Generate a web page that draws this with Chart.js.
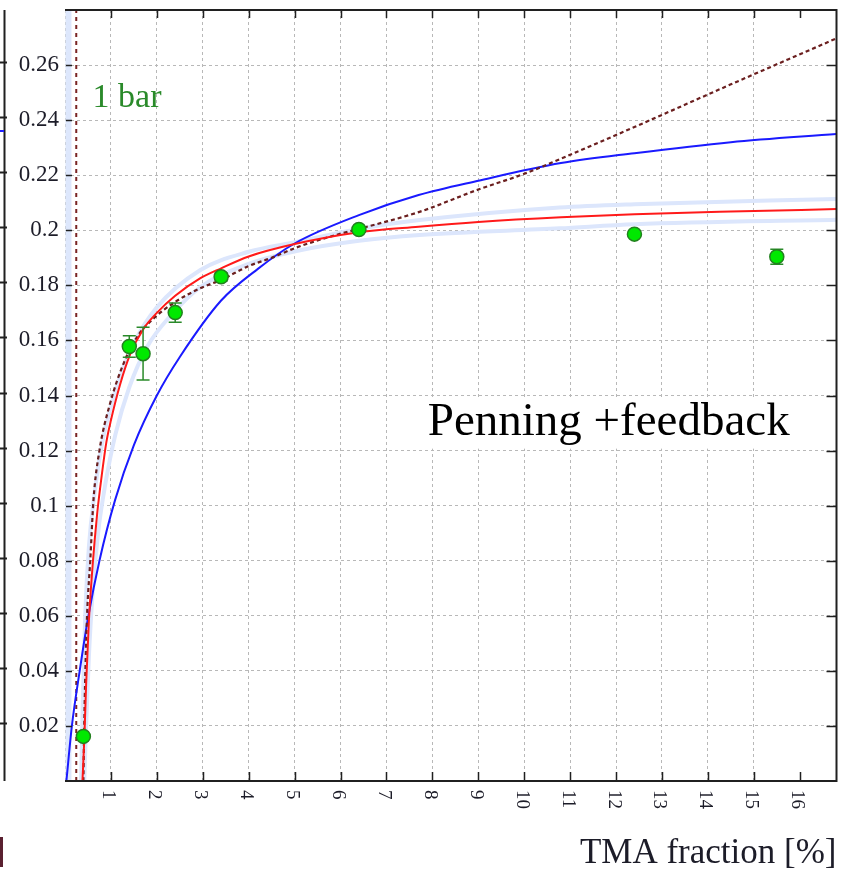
<!DOCTYPE html>
<html>
<head>
<meta charset="utf-8">
<title>TMA fraction</title>
<script src="https://cdn.jsdelivr.net/npm/chart.js@4.4.0/dist/chart.umd.min.js"></script>
<style>
  html, body { margin: 0; padding: 0; background: #fff; }
</style>
</head>
<body>
<canvas id="tma-chart" width="845" height="869"></canvas>
<script>
// --- data ---

// axis ticks
const xTicks = [1, 2, 3, 4, 5, 6, 7, 8, 9, 10, 11, 12, 13, 14, 15, 16];
const yTicks = [0.02, 0.04, 0.06, 0.08, 0.1, 0.12, 0.14, 0.16, 0.18, 0.2, 0.22, 0.24, 0.26];

// measured points, 1 bar (TMA %, value, error)
const measX = [0.4, 1.4, 1.7, 2.4, 3.4, 6.4, 12.4, 15.5];
const measY = [0.0162, 0.1578, 0.1552, 0.1701, 0.1831, 0.2003, 0.1986, 0.1904];
const measErr = [0, 0.0039, 0.0096, 0.0035, 0.0015, 0.001, 0.001, 0.0027];

// Penning fit (red)
const penningX = [0.38, 0.42, 0.46, 0.52, 0.6, 0.7, 0.8, 0.9, 1.0, 1.2, 1.42, 1.7, 2.0, 2.4, 2.94, 3.4, 4.0, 5.0, 6.4, 7.7, 9.0, 10.8, 12.4, 14.5, 16.8];
const penningY = [0, 0.015, 0.035, 0.058, 0.078, 0.097, 0.111, 0.123, 0.131, 0.144, 0.155, 0.164, 0.170, 0.1762, 0.1825, 0.1862, 0.1905, 0.1950, 0.1993, 0.2013, 0.203, 0.2047, 0.2058, 0.2068, 0.2077];

// band around the Penning fit (pale blue)
const bandHiX = [0.35, 0.39, 0.44, 0.52, 0.64, 0.8, 1.0, 1.2, 1.5, 2.0, 2.94, 4.0, 5.04, 6.4, 7.72, 10.77, 12.4, 16.8];
const bandHiY = [0, 0.03, 0.06, 0.085, 0.104, 0.122, 0.136, 0.147, 0.159, 0.172, 0.1855, 0.1922, 0.1958, 0.2005, 0.2037, 0.2083, 0.2095, 0.2114];
const bandLoX = [0.42, 0.46, 0.52, 0.6, 0.72, 0.88, 1.1, 1.4, 1.8, 2.3, 2.94, 4.0, 5.04, 6.4, 7.72, 10.77, 12.4, 16.8];
const bandLoY = [0, 0.02, 0.045, 0.068, 0.09, 0.108, 0.126, 0.143, 0.158, 0.169, 0.1793, 0.1878, 0.1925, 0.1962, 0.1983, 0.2007, 0.2022, 0.2038];

// second fit (blue)
const blueX = [0.03, 0.15, 0.32, 0.51, 0.75, 1.09, 1.5, 2.0, 2.5, 3.4, 4.2, 5.0, 6.4, 7.7, 9.0, 10.8, 12.4, 14.5, 16.8];
const blueY = [0, 0.02, 0.04, 0.06, 0.08, 0.102, 0.122, 0.140, 0.154, 0.1745, 0.186, 0.1952, 0.2055, 0.2128, 0.218, 0.2244, 0.228, 0.232, 0.235];

// Penning + feedback (dashed)
const feedbackX = [0.40, 0.43, 0.48, 0.55, 0.62, 0.75, 0.98, 1.31, 1.6, 1.93, 2.4, 2.94, 3.4, 4.0, 4.5, 5.0, 5.84, 6.4, 7.72, 9.0, 10.0, 10.77, 12.4, 14.5, 16.8];
const feedbackY = [0, 0.03, 0.06, 0.08, 0.102, 0.12, 0.137, 0.153, 0.162, 0.168, 0.174, 0.1789, 0.182, 0.187, 0.190, 0.1935, 0.198, 0.2005, 0.2067, 0.2148, 0.2205, 0.2258, 0.2375, 0.2530, 0.2697];

// vertical lines near the origin
const poleX = [0.245, 0.245];
const poleY = [0, 0.28];
const edgeBandX = [0.075, 0.075];
const edgeBandY = [0, 0.28];

const SERIF = "'Liberation Serif', 'DejaVu Serif', serif";
const TEXT = "#1c1c28";

function toPoints(xs, ys) {
    return xs.map((x, i) => ({ x: x, y: ys[i] }));
}

// --- plugins ---

// error bars under the measured points
const errorBars = {
    id: "errorBars",
    beforeDatasetDraw(chart, args) {
        if (args.index !== 0) return;
        const { ctx, scales: { x, y } } = chart;
        ctx.save();
        ctx.strokeStyle = "#2a8a2a";
        ctx.lineWidth = 1.5;
        measX.forEach((mx, i) => {
            if (!measErr[i]) return;
            const px = x.getPixelForValue(mx);
            const top = y.getPixelForValue(measY[i] + measErr[i]);
            const bot = y.getPixelForValue(measY[i] - measErr[i]);
            ctx.beginPath();
            ctx.moveTo(px, top); ctx.lineTo(px, bot);
            ctx.moveTo(px - 6.5, top); ctx.lineTo(px + 6.5, top);
            ctx.moveTo(px - 6.5, bot); ctx.lineTo(px + 6.5, bot);
            ctx.stroke();
        });
        ctx.restore();
    }
};

// white box behind the label on the right
const labelBox = {
    id: "labelBox",
    beforeDatasetsDraw(chart) {
        const { ctx, scales: { x, y } } = chart;
        const l = x.getPixelForValue(7.45);
        const r = x.getPixelForValue(16.8);
        const t = y.getPixelForValue(0.1392);
        const b = y.getPixelForValue(0.1207);
        ctx.save();
        ctx.fillStyle = "#ffffff";
        ctx.fillRect(l, t, r - l, b - t);
        ctx.restore();
    }
};

// frame with inward ticks, rotated x labels, text notes
const frame = {
    id: "frame",
    afterDraw(chart) {
        const { ctx, chartArea: a, scales: { x, y } } = chart;
        ctx.save();

        // frame: top, right, bottom
        ctx.strokeStyle = "#202020";
        ctx.lineWidth = 2;
        ctx.beginPath();
        ctx.moveTo(a.left, a.top); ctx.lineTo(a.right, a.top);
        ctx.lineTo(a.right, a.bottom); ctx.lineTo(a.left, a.bottom);
        ctx.stroke();

        // inward tick marks
        ctx.lineWidth = 1.5;
        ctx.beginPath();
        xTicks.forEach(v => {
            const px = Math.round(x.getPixelForValue(v)) + 0.5;
            ctx.moveTo(px, a.bottom); ctx.lineTo(px, a.bottom - 9);
            ctx.moveTo(px, a.top); ctx.lineTo(px, a.top + 8);
        });
        yTicks.forEach(v => {
            const py = Math.round(y.getPixelForValue(v)) + 0.5;
            ctx.moveTo(a.right, py); ctx.lineTo(a.right - 10, py);
            ctx.moveTo(a.left + 1, py); ctx.lineTo(a.left + 7, py);
        });
        ctx.stroke();

        // x tick labels, turned clockwise
        ctx.fillStyle = TEXT;
        ctx.font = "19px " + SERIF;
        ctx.textAlign = "left";
        ctx.textBaseline = "alphabetic";
        xTicks.forEach(v => {
            const px = x.getPixelForValue(v);
            ctx.save();
            ctx.translate(px, a.bottom + 9);
            ctx.rotate(Math.PI / 2);
            ctx.fillText(String(v), 0, 7.5);
            ctx.restore();
        });

        // notes
        ctx.fillStyle = "#2a8a2a";
        ctx.font = "34px " + SERIF;
        ctx.fillText("1 bar", x.getPixelForValue(0.6), y.getPixelForValue(0.2447));
        ctx.fillStyle = "#000000";
        ctx.font = "47px " + SERIF;
        ctx.fillText("Penning +feedback", x.getPixelForValue(7.9), y.getPixelForValue(0.1258));

        // edge of the neighbouring panel
        ctx.strokeStyle = "#202020";
        ctx.lineWidth = 2;
        ctx.beginPath();
        ctx.moveTo(4.5, a.top); ctx.lineTo(4.5, a.bottom);
        yTicks.forEach(v => {
            const py = Math.round(y.getPixelForValue(v)) - 2.5;
            ctx.moveTo(0, py); ctx.lineTo(7, py);
        });
        ctx.stroke();
        ctx.strokeStyle = "#2020ff";
        ctx.beginPath();
        ctx.moveTo(0, 131); ctx.lineTo(4, 131);
        ctx.stroke();
        ctx.fillStyle = "#5a2030";
        ctx.fillRect(0, 837, 3, 30);
        ctx.restore();
    }
};

// --- chart ---

const ctx = document.getElementById("tma-chart").getContext("2d");

new Chart(ctx, {
    type: "scatter",
    data: {
        datasets: [
            {
                label: "1 bar",
                data: toPoints(measX, measY),
                pointRadius: 7,
                pointBackgroundColor: "#00e800",
                pointBorderColor: "#23801f",
                pointBorderWidth: 1.5,
                showLine: false,
                order: 0
            },
            {
                label: "Penning",
                data: toPoints(penningX, penningY),
                showLine: true,
                borderColor: "#ff1a1a",
                borderWidth: 2,
                pointRadius: 0,
                cubicInterpolationMode: "monotone",
                order: 1
            },
            {
                label: "Penning +feedback",
                data: toPoints(feedbackX, feedbackY),
                showLine: true,
                borderColor: "#6b1f1f",
                borderWidth: 2.2,
                borderDash: [4, 3],
                pointRadius: 0,
                cubicInterpolationMode: "monotone",
                order: 2
            },
            {
                label: "fit",
                data: toPoints(blueX, blueY),
                showLine: true,
                borderColor: "#1a1aff",
                borderWidth: 2,
                pointRadius: 0,
                cubicInterpolationMode: "monotone",
                order: 3
            },
            {
                label: "pole",
                data: toPoints(poleX, poleY),
                showLine: true,
                borderColor: "#7a2424",
                borderWidth: 2,
                borderDash: [4, 4],
                pointRadius: 0,
                order: 4
            },
            {
                label: "band high",
                data: toPoints(bandHiX, bandHiY),
                showLine: true,
                borderColor: "#dce6fc",
                borderWidth: 4,
                pointRadius: 0,
                cubicInterpolationMode: "monotone",
                order: 5
            },
            {
                label: "band low",
                data: toPoints(bandLoX, bandLoY),
                showLine: true,
                borderColor: "#dce6fc",
                borderWidth: 4,
                pointRadius: 0,
                cubicInterpolationMode: "monotone",
                order: 5
            },
            {
                label: "edge band",
                data: toPoints(edgeBandX, edgeBandY),
                showLine: true,
                borderColor: "#dde7fc",
                borderWidth: 6,
                pointRadius: 0,
                order: 6
            }
        ]
    },
    options: {
        responsive: false,
        animation: false,
        devicePixelRatio: 1,
        layout: { padding: { top: 10, right: 7, left: 0, bottom: 0 } },
        plugins: {
            legend: { display: false },
            tooltip: { enabled: false }
        },
        scales: {
            x: {
                type: "linear",
                min: 0,
                max: 16.8,
                ticks: { display: false, stepSize: 1 },
                grid: { drawTicks: false, color: "#b8b8b8", lineWidth: 1 },
                border: { display: false, dash: [3, 3] },
                title: {
                    display: true,
                    text: "TMA fraction [%]",
                    align: "end",
                    color: TEXT,
                    font: { family: SERIF, size: 35 },
                    padding: { top: 0, bottom: -6 }
                },
                afterFit(scale) {
                    scale.height = 88;
                    scale.paddingLeft = 0;
                    scale.paddingRight = 0;
                }
            },
            y: {
                type: "linear",
                min: 0,
                max: 0.28,
                ticks: {
                    stepSize: 0.02,
                    padding: 6,
                    color: TEXT,
                    font: { family: SERIF, size: 23 },
                    callback: (v) => {
                        const r = Number(v.toFixed(2));
                        return yTicks.includes(r) ? String(r) : "";
                    }
                },
                grid: { drawTicks: false, color: "#b8b8b8", lineWidth: 1 },
                border: { display: false, dash: [3, 3] },
                afterFit(scale) {
                    scale.width = 65;
                    scale.paddingTop = 0;
                    scale.paddingBottom = 0;
                }
            }
        }
    },
    plugins: [errorBars, labelBox, frame]
});
</script>
</body>
</html>
